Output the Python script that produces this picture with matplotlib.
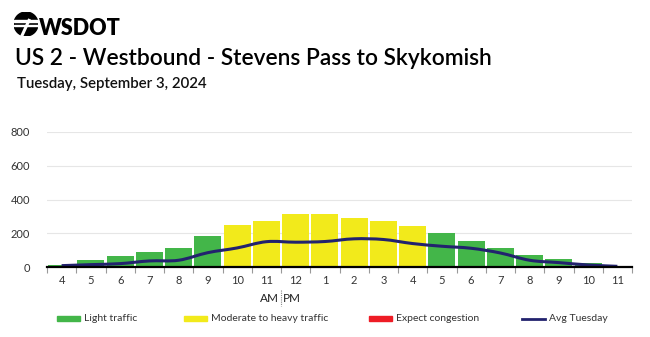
import numpy as np
import matplotlib
matplotlib.use('Agg')
import matplotlib.pyplot as plt
from matplotlib.path import Path
from matplotlib.patches import PathPatch, Circle, Rectangle
from matplotlib.lines import Line2D
import matplotlib.transforms as mtransforms

plt.rcParams['font.family'] = ['Lato', 'DejaVu Sans']

# --- data ---
hours = ['4', '5', '6', '7', '8', '9', '10', '11', '12', '1',
         '2', '3', '4', '5', '6', '7', '8', '9', '10', '11']
volumes = [10, 44, 64, 91, 113, 185, 248, 270, 312, 312,
           290, 270, 242, 204, 157, 113, 71, 46, 22, 8]
levels = ['light'] * 6 + ['moderate'] * 7 + ['light'] * 7
avg_tuesday = [8, 14, 20, 36, 40, 85, 113, 150, 147, 151,
               167, 163, 139, 123, 111, 83, 40, 26, 12, 4]

colors = {'light': '#43B649', 'moderate': '#F2EA1B', 'heavy': '#EE1C25'}
navy = '#22226E'

fig = plt.figure(figsize=(6.5, 3.37), dpi=100)
ax = fig.add_axes([47 / 650, 1 - 267 / 337, 585 / 650, 135 / 337])

x = np.arange(len(hours))
ax.bar(x, volumes, width=0.92, color=[colors[l] for l in levels], zorder=2)


# smooth avg line drawn as bezier path (catmull-rom control points)
def smooth_path(xs, ys):
    pts = np.column_stack([xs, ys]).astype(float)
    verts = [pts[0]]
    codes = [Path.MOVETO]
    for i in range(len(pts) - 1):
        p0 = pts[i - 1] if i > 0 else pts[i]
        p1, p2 = pts[i], pts[i + 1]
        p3 = pts[i + 2] if i + 2 < len(pts) else pts[i + 1]
        c1 = p1 + (p2 - p0) / 6
        c2 = p2 - (p3 - p1) / 6
        verts += [c1, c2, p2]
        codes += [Path.CURVE4] * 3
    return Path(verts, codes)


ax.add_patch(PathPatch(smooth_path(x, avg_tuesday), fill=False,
                       edgecolor=navy, lw=2.2, zorder=3))

ax.set_xlim(-0.5, len(hours) - 0.5)
ax.set_ylim(0, 800)
ax.set_yticks([0, 200, 400, 600, 800])
ax.grid(axis='y', color='#e6e6e6', lw=0.8, zorder=0)
ax.set_axisbelow(True)
for s in ['top', 'right', 'left']:
    ax.spines[s].set_visible(False)
ax.spines['bottom'].set_color('black')
ax.spines['bottom'].set_linewidth(1.6)
ax.spines['bottom'].set_zorder(4)

ax.set_xticks(np.arange(len(hours) + 1) - 0.5)
ax.set_xticklabels([])
ax.tick_params(axis='x', which='major', length=4, color='#999999', width=0.8)
ax.set_xticks(x, minor=True)
ax.set_xticklabels(hours, minor=True)
ax.tick_params(axis='x', which='minor', length=0, pad=6, labelsize=8, labelcolor='#333333')
ax.tick_params(axis='y', length=0, pad=12, labelsize=8, labelcolor='#333333')

# AM | PM marker
trans = mtransforms.blended_transform_factory(ax.transData, fig.transFigure)
ax.text(7.42, 1 - 298 / 337, 'AM', transform=trans, ha='right', va='center',
        fontsize=8.5, color='#222222')
ax.text(7.58, 1 - 298 / 337, 'PM', transform=trans, ha='left', va='center',
        fontsize=8.5, color='#222222')
fig.add_artist(Line2D([7.5, 7.5], [1 - 290 / 337, 1 - 306 / 337], transform=trans,
                      color='#888888', lw=0.8, ls=(0, (1, 1))))

# legend
leg_y = 1 - 318.5 / 337
legend_items = [(57, colors['light'], 'Light traffic', 'patch'),
                (184, colors['moderate'], 'Moderate to heavy traffic', 'patch'),
                (369, colors['heavy'], 'Expect congestion', 'patch'),
                (522, navy, 'Avg Tuesday', 'line')]
for px, c, lab, kind in legend_items:
    if kind == 'patch':
        fig.add_artist(Rectangle((px / 650, leg_y - 2.5 / 337), 23 / 650, 5 / 337,
                                 transform=fig.transFigure, color=c))
    else:
        fig.add_artist(Line2D([px / 650, (px + 23) / 650], [leg_y, leg_y],
                              transform=fig.transFigure, color=c, lw=2))
    fig.text((px + 27) / 650, leg_y, lab, ha='left', va='center', fontsize=7.5,
             color='#333333')

# header: logo, title, subtitle
logo_ax = fig.add_axes([14 / 650, 1 - 36 / 337, 24 / 650, 24 / 337])
logo_ax.set_xlim(-1, 1)
logo_ax.set_ylim(-1, 1)
logo_ax.set_aspect('equal')
logo_ax.axis('off')
logo_ax.add_patch(Circle((0, 0), 1, color='black'))
logo_ax.add_patch(Rectangle((-1, 0.15), 2, 0.22, color='white'))
logo_ax.add_patch(Rectangle((-1, -0.2), 2, 0.12, color='white'))
logo_ax.plot([0.25, -0.35], [0.3, -1.0], color='white', lw=2.2)

fig.text(39 / 650, 1 - 35 / 337, 'WSDOT', fontsize=15.5, fontweight='heavy',
         color='black', va='baseline', ha='left')
fig.text(15 / 650, 1 - 65 / 337, 'US 2 - Westbound - Stevens Pass to Skykomish',
         fontsize=16.4, fontweight='semibold', color='black', va='baseline', ha='left')
fig.text(17 / 650, 1 - 88 / 337, 'Tuesday, September 3, 2024',
         fontsize=10.8, fontweight='semibold', color='#111111', va='baseline', ha='left')

fig.savefig('out.png', dpi=100)
